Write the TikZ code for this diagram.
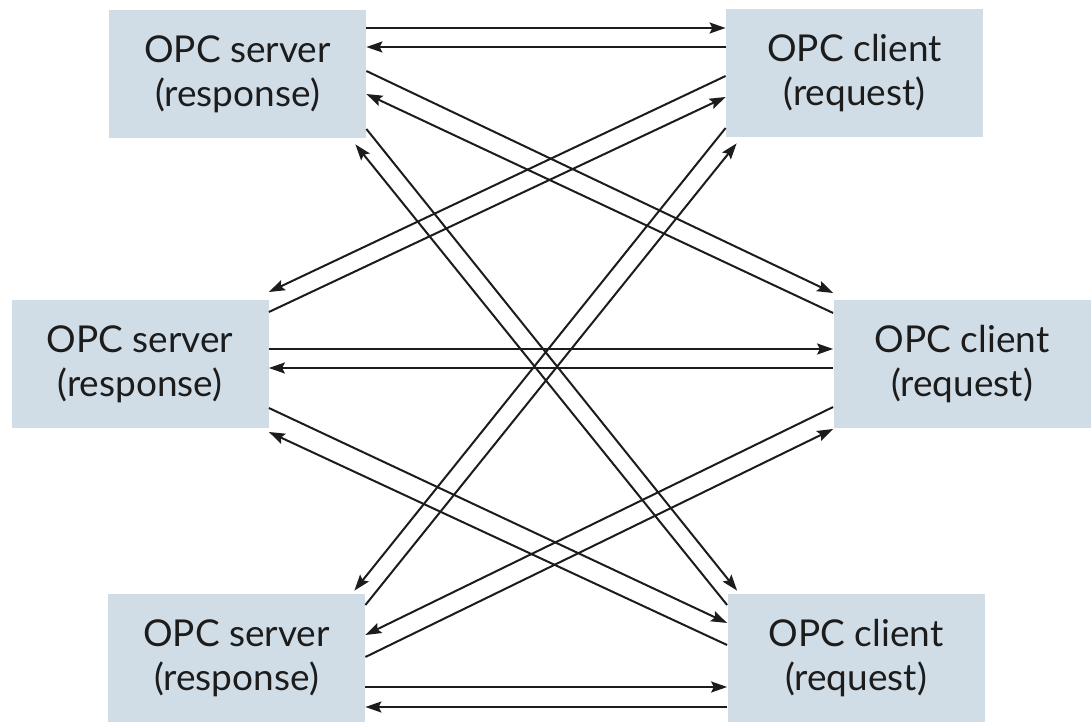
\documentclass[tikz,border=0pt]{standalone}
\usepackage{fontspec}
\setmainfont{Lato}
\usetikzlibrary{arrows.meta,calc}
\definecolor{boxfill}{RGB}{209,221,230}
\definecolor{inkdark}{RGB}{28,28,28}

\begin{document}
\begin{tikzpicture}[
  x=0.5pt, y=-0.5pt,
  box/.style={fill=boxfill, align=center, minimum width=128.5pt, minimum height=64pt,
    inner sep=0pt, font=\fontsize{18.5}{22}\selectfont, text=inkdark},
  arr/.style={-{Stealth[length=8pt,width=5.5pt,inset=1.4pt]}, line width=1pt, inkdark}
]
  \useasboundingbox (0,0) rectangle (1092,722);

  \node[box] (srvA) at (237.5,74) {OPC server\\(response)};
  \node[box] (cliA) at (854.5,73) {OPC client\\(request)};
  \node[box] (srvB) at (140,364) {OPC server\\(response)};
  \node[box] (cliB) at (962,364) {OPC client\\(request)};
  \node[box] (srvC) at (236.5,658) {OPC server\\(response)};
  \node[box] (cliC) at (856,658) {OPC client\\(request)};

  % top pair
  \draw[arr] ($(srvA.east)+(0,-46)$) -- ($(cliA.west)+(0,-45)$);
  \draw[arr] ($(cliA.west)+(0,-26)$) -- ($(srvA.east)+(0,-27)$);
  % middle pair
  \draw[arr] ($(srvB.east)+(0,-15)$) -- ($(cliB.west)+(0,-15)$);
  \draw[arr] ($(cliB.west)+(0,4)$) -- ($(srvB.east)+(0,4)$);
  % bottom pair
  \draw[arr] ($(srvC.east)+(0,29)$) -- ($(cliC.west)+(0,29)$);
  \draw[arr] ($(cliC.west)+(0,49)$) -- ($(srvC.east)+(0,49)$);

  % crossing links
  \draw[arr] ($(srvA.east)+(0,-3)$) -- ($(cliB.west)+(0,-71)$);
  \draw[arr] ($(cliB.west)+(0,-51)$) -- ($(srvA.east)+(0,20)$);
  \draw[arr] ($(srvA.east)+(0,55)$) -- ($(cliC.north west)+(10,-3)$);
  \draw[arr] ($(cliC.west)+(0,-53)$) -- ($(srvA.south east)+(-11,6)$);
  \draw[arr] ($(cliA.west)+(0,3)$) -- ($(srvB.east)+(0,-72)$);
  \draw[arr] ($(srvB.east)+(0,-52)$) -- ($(cliA.west)+(0,24)$);
  \draw[arr] ($(cliA.west)+(0,55)$) -- ($(srvC.north east)+(-11,-3)$);
  \draw[arr] ($(srvC.east)+(0,-53)$) -- ($(cliA.south west)+(11,6)$);
  \draw[arr] ($(srvB.east)+(0,44)$) -- ($(cliC.west)+(0,-35)$);
  \draw[arr] ($(cliC.west)+(0,-13)$) -- ($(srvB.east)+(0,68)$);
  \draw[arr] ($(cliB.west)+(0,43)$) -- ($(srvC.east)+(0,-23)$);
  \draw[arr] ($(srvC.east)+(0,-1)$) -- ($(cliB.west)+(0,65)$);
\end{tikzpicture}
\end{document}
